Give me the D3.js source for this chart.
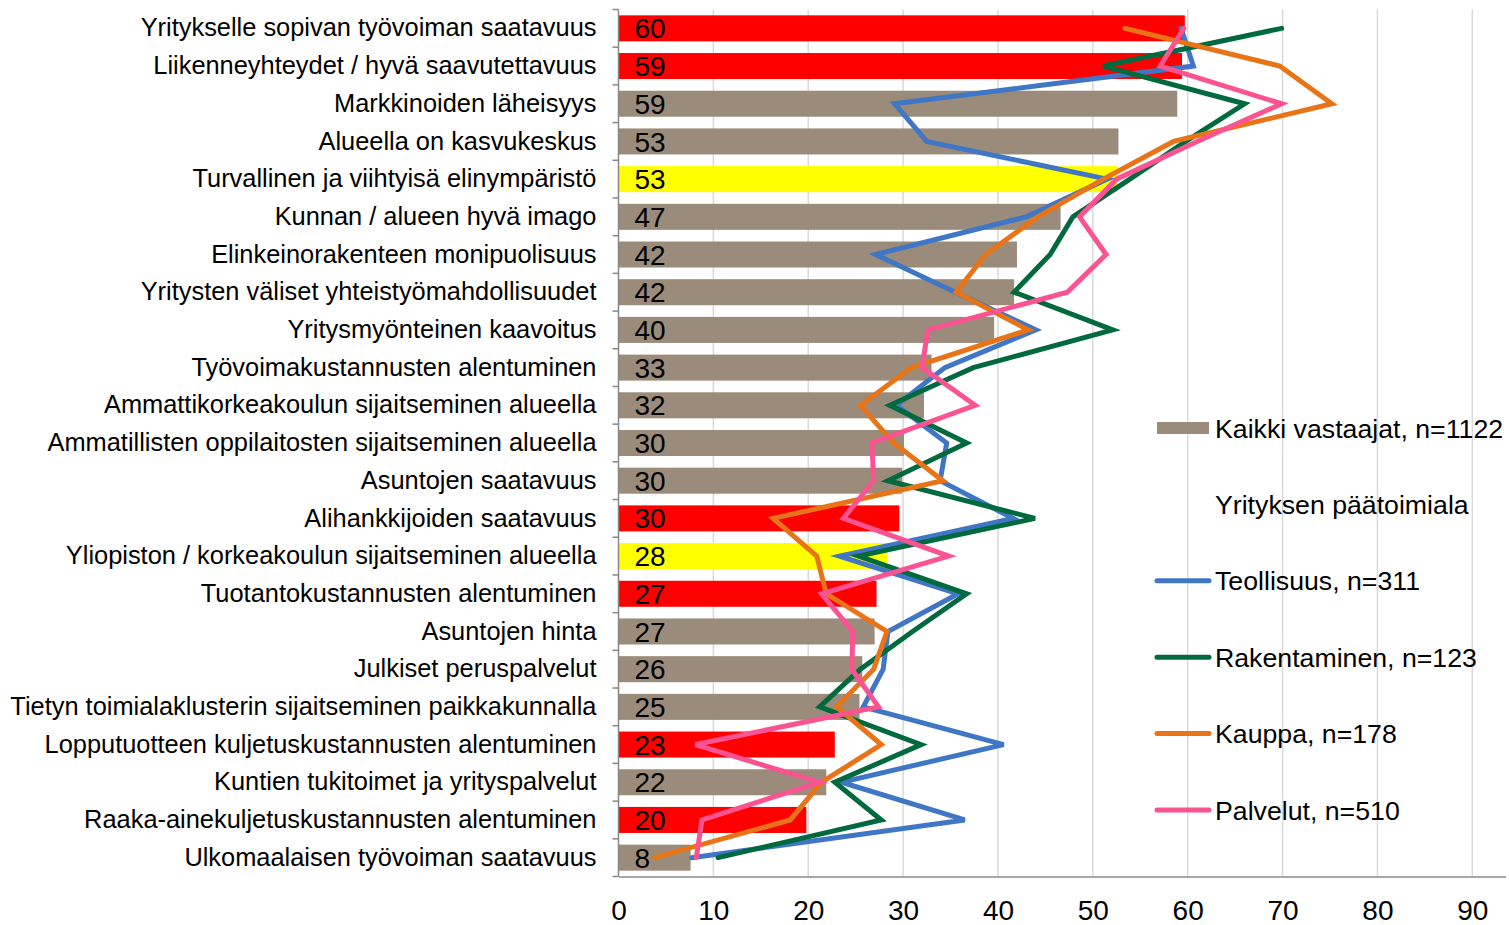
<!DOCTYPE html>
<html>
<head>
<meta charset="utf-8">
<title>Sijaintitekijät</title>
<script src="https://cdn.jsdelivr.net/npm/d3@7"></script>
<style>
  body { margin: 0; background: #fff; }
  svg { display: block; font-family: "Liberation Sans", Arial, sans-serif; }
</style>
</head>
<body>
<div id="chart"></div>
<script>
// categories, top to bottom
var categories = [
  'Yritykselle sopivan työvoiman saatavuus',
  'Liikenneyhteydet / hyvä saavutettavuus',
  'Markkinoiden läheisyys',
  'Alueella on kasvukeskus',
  'Turvallinen ja viihtyisä elinympäristö',
  'Kunnan / alueen hyvä imago',
  'Elinkeinorakenteen monipuolisuus',
  'Yritysten väliset yhteistyömahdollisuudet',
  'Yritysmyönteinen kaavoitus',
  'Työvoimakustannusten alentuminen',
  'Ammattikorkeakoulun sijaitseminen alueella',
  'Ammatillisten oppilaitosten sijaitseminen alueella',
  'Asuntojen saatavuus',
  'Alihankkijoiden saatavuus',
  'Yliopiston / korkeakoulun sijaitseminen alueella',
  'Tuotantokustannusten alentuminen',
  'Asuntojen hinta',
  'Julkiset peruspalvelut',
  'Tietyn toimialaklusterin sijaitseminen paikkakunnalla',
  'Lopputuotteen kuljetuskustannusten alentuminen',
  'Kuntien tukitoimet ja yrityspalvelut',
  'Raaka-ainekuljetuskustannusten alentuminen',
  'Ulkomaalaisen työvoiman saatavuus'
];

// Kaikki vastaajat (bars)
var kaikki = [59.7, 59.4, 58.9, 52.7, 52.6, 46.6, 42.0, 41.7, 39.6, 33.0, 32.2, 30.1,
  29.9, 29.6, 28.3, 27.2, 27.0, 25.7, 25.4, 22.8, 21.9, 19.8, 7.6];
// bar group: p = punainen korostus, k = keltainen korostus, n = normaali
var barGroup = ['p', 'p', 'n', 'n', 'k', 'n', 'n', 'n', 'n', 'n', 'n', 'n',
  'n', 'p', 'k', 'p', 'n', 'n', 'n', 'p', 'n', 'p', 'n'];

// Yrityksen päätoimiala (lines)
var teollisuus = [59.3, 60.6, 29.1, 32.5, 51.5, 43.0, 27.1, 35.5, 44.0, 34.4, 29.3, 34.6,
  33.9, 41.6, 23.3, 35.8, 28.4, 27.9, 25.8, 40.6, 23.5, 36.5, 7.7];
var rakentaminen = [69.9, 51.1, 66.0, 59.8, 53.9, 47.9, 45.5, 41.7, 52.1, 37.4, 28.6, 36.7,
  28.4, 43.9, 25.3, 36.7, 31.0, 25.5, 21.2, 31.9, 22.8, 27.7, 10.5];
var kauppa = [53.4, 69.7, 75.2, 58.5, 51.1, 44.2, 38.7, 35.6, 43.2, 30.9, 25.5, 29.0,
  34.2, 16.3, 20.9, 21.9, 28.3, 26.9, 23.0, 27.7, 21.4, 18.1, 3.8];
var palvelut = [59.6, 57.1, 69.9, 61.0, 52.5, 48.6, 51.4, 47.3, 32.6, 32.0, 37.6, 26.7,
  26.9, 23.7, 34.8, 21.4, 24.7, 24.6, 27.4, 8.1, 21.2, 8.8, 8.2];

var xTicks = [0, 10, 20, 30, 40, 50, 60, 70, 80, 90];
var barLegend = 'Kaikki vastaajat, n=1122';
var legendTitle = 'Yrityksen päätoimiala';
var seriesNames = ['Teollisuus, n=311', 'Rakentaminen, n=123', 'Kauppa, n=178', 'Palvelut, n=510'];

(function (d3) {
  'use strict';

  var series = [
    { name: seriesNames[0], values: teollisuus, color: '#3f77c6' },
    { name: seriesNames[1], values: rakentaminen, color: '#00693e' },
    { name: seriesNames[2], values: kauppa, color: '#e97417' },
    { name: seriesNames[3], values: palvelut, color: '#fb5391' }
  ];

  var width = 1509, height = 925;
  var plotLeft = 618.5, plotRight = 1505.5, plotTop = 9.5, plotBottom = 876.5;

  var svg = d3.select('#chart').append('svg')
    .attr('width', width)
    .attr('height', height);

  var x = d3.scaleLinear().domain([0, 93.5]).range([plotLeft, plotRight]);
  var y = d3.scaleBand().domain(categories).range([plotTop, plotBottom])
    .paddingInner(0.31).paddingOuter(0.155);
  var barColor = d3.scaleOrdinal().domain(['p', 'k', 'n'])
    .range(['#ff0000', '#ffff00', '#9a8b7a']);

  // gridlines
  svg.append('g').selectAll('line')
    .data(xTicks.filter(function (d) { return d > 0; }))
    .enter().append('line')
    .attr('x1', function (d) { return x(d); })
    .attr('x2', function (d) { return x(d); })
    .attr('y1', plotTop)
    .attr('y2', plotBottom)
    .attr('stroke', '#d9d9d9')
    .attr('stroke-width', 1.5);

  // bars
  svg.append('g').selectAll('rect')
    .data(categories)
    .enter().append('rect')
    .attr('x', x(0))
    .attr('y', function (d) { return y(d); })
    .attr('width', function (d, i) { return x(kaikki[i]) - x(0); })
    .attr('height', y.bandwidth())
    .attr('fill', function (d, i) { return barColor(barGroup[i]); });

  // data labels
  svg.append('g').selectAll('text')
    .data(categories)
    .enter().append('text')
    .attr('x', x(0) + 16)
    .attr('y', function (d) { return y(d) + y.bandwidth() / 2; })
    .attr('dy', '0.36em')
    .attr('font-size', 28)
    .attr('fill', '#000')
    .text(function (d, i) { return Math.round(kaikki[i]); });

  // left axis
  var yAxis = svg.append('g')
    .attr('transform', 'translate(' + plotLeft + ',0)')
    .call(d3.axisLeft(y).tickSize(0).tickPadding(22));
  yAxis.select('.domain').remove();
  yAxis.selectAll('text')
    .attr('font-size', 25.4)
    .attr('fill', '#000')
    .attr('font-family', '"Liberation Sans", Arial, sans-serif');

  var boundaries = d3.range(categories.length + 1).map(function (i) {
    return plotTop + i * y.step();
  });
  svg.append('g').selectAll('line')
    .data(boundaries)
    .enter().append('line')
    .attr('x1', plotLeft - 6)
    .attr('x2', plotLeft)
    .attr('y1', function (d) { return d; })
    .attr('y2', function (d) { return d; })
    .attr('stroke', '#888')
    .attr('stroke-width', 1.5);
  svg.append('line')
    .attr('x1', plotLeft).attr('x2', plotLeft)
    .attr('y1', plotTop).attr('y2', plotBottom)
    .attr('stroke', '#888').attr('stroke-width', 1.5);

  // bottom axis
  var xAxis = svg.append('g')
    .attr('transform', 'translate(0,' + plotBottom + ')')
    .call(d3.axisBottom(x).tickValues(xTicks).tickSize(0).tickPadding(24));
  xAxis.select('.domain')
    .attr('stroke', '#888')
    .attr('stroke-width', 1.5);
  xAxis.selectAll('text')
    .attr('font-size', 28)
    .attr('fill', '#000')
    .attr('font-family', '"Liberation Sans", Arial, sans-serif');

  // lines
  var line = d3.line()
    .x(function (d) { return x(d.v); })
    .y(function (d) { return y(d.c) + y.bandwidth() / 2; });

  svg.append('g').selectAll('path')
    .data(series)
    .enter().append('path')
    .attr('d', function (s) {
      return line(s.values.map(function (v, i) { return { v: v, c: categories[i] }; }));
    })
    .attr('fill', 'none')
    .attr('stroke', function (s) { return s.color; })
    .attr('stroke-width', 5)
    .attr('stroke-linecap', 'round')
    .attr('stroke-linejoin', 'miter');

  // legend
  var lgX = 1157, lgTextX = 1215, lgY0 = 428, lgStep = 76.4;
  var legend = svg.append('g').attr('font-size', 26.7);

  legend.append('rect')
    .attr('x', lgX)
    .attr('y', lgY0 - 6)
    .attr('width', 52)
    .attr('height', 12)
    .attr('fill', barColor('n'));
  legend.append('text')
    .attr('x', lgTextX).attr('y', lgY0).attr('dy', '0.36em')
    .text(barLegend);
  legend.append('text')
    .attr('x', lgTextX).attr('y', lgY0 + lgStep).attr('dy', '0.36em')
    .text(legendTitle);

  var items = legend.selectAll('.item')
    .data(series)
    .enter().append('g')
    .attr('class', 'item')
    .attr('transform', function (d, i) {
      return 'translate(0,' + (lgY0 + (i + 2) * lgStep) + ')';
    });
  items.append('line')
    .attr('x1', lgX).attr('x2', lgX + 52)
    .attr('stroke', function (d) { return d.color; })
    .attr('stroke-width', 5)
    .attr('stroke-linecap', 'round');
  items.append('text')
    .attr('x', lgTextX).attr('dy', '0.36em')
    .text(function (d) { return d.name; });
})(window.d3);
</script>
</body>
</html>
